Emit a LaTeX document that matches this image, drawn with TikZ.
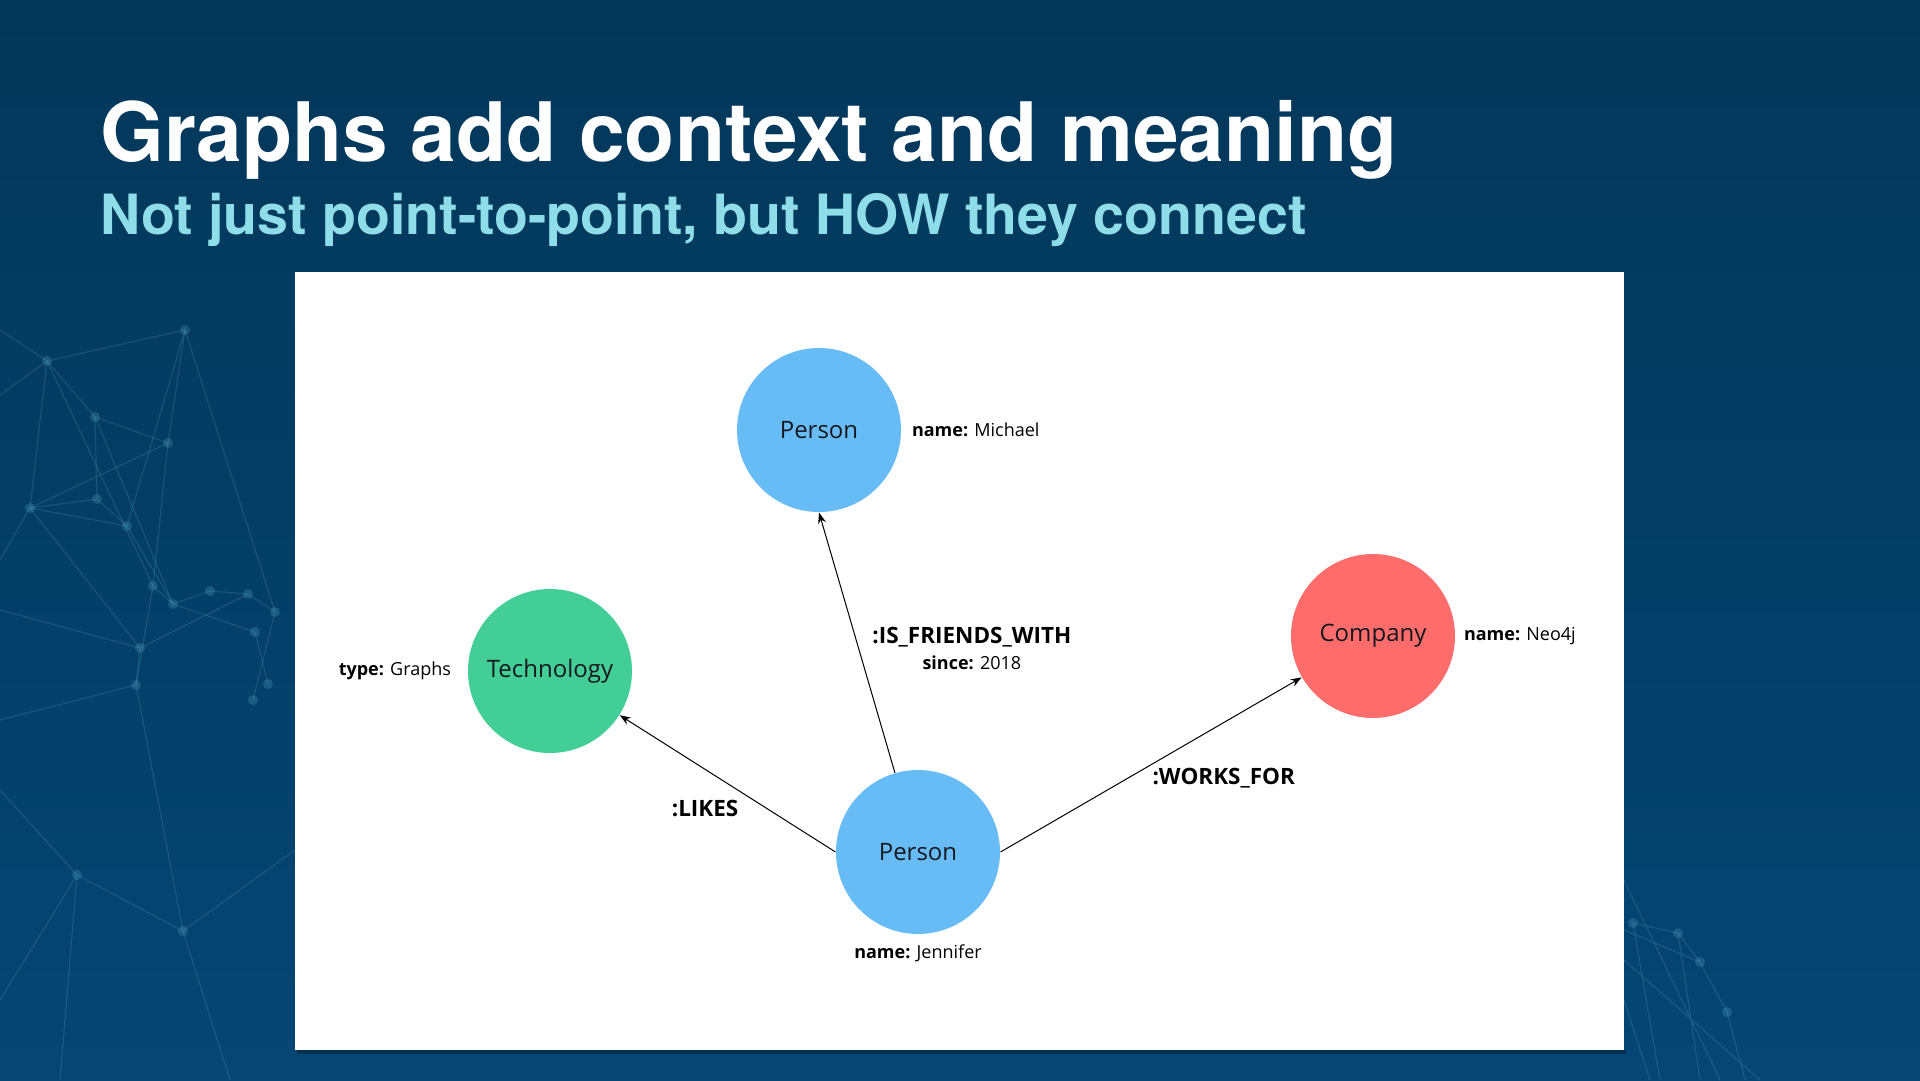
\documentclass[tikz,border=0pt]{standalone}
\usepackage{fontspec}
\setmainfont{Open Sans}
\newfontfamily\headfont{TeX Gyre Heros}
\usetikzlibrary{arrows.meta}
\usetikzlibrary{positioning}

\definecolor{bgtop}{RGB}{3,55,89}
\definecolor{bgbottom}{RGB}{5,70,117}
\definecolor{subcyan}{RGB}{143,221,232}
\definecolor{netline}{RGB}{95,175,205}
\definecolor{personblue}{RGB}{104,188,246}
\definecolor{techgreen}{RGB}{66,206,150}
\definecolor{companyred}{RGB}{255,108,108}
\definecolor{nodetext}{RGB}{22,24,32}

\begin{document}
\begin{tikzpicture}[x=1pt,y=-1pt,->,>={Stealth[length=11pt,width=8pt]},line width=1pt]
\tikzstyle{gnode}=[circle,minimum size=164pt,inner sep=0pt,text=nodetext,font=\fontsize{24}{28}\selectfont]
\tikzstyle{person}=[gnode,fill=personblue]
\tikzstyle{tech}=[gnode,fill=techgreen]
\tikzstyle{company}=[gnode,fill=companyred]
\tikzstyle{prop}=[inner sep=0pt,text=black,font=\fontsize{18}{21}\selectfont]
\tikzstyle{rel}=[inner sep=1pt,text=black,font=\fontsize{22.5}{26}\selectfont\bfseries]
\useasboundingbox (0,0) rectangle (1920,1080);
\shade[top color=bgtop,bottom color=bgbottom] (0,0) rectangle (1920,1080);

% faint network in the background
\begin{scope}[-,draw=netline,draw opacity=0.2,line width=1.2pt]
\foreach \n/\p in {a/{47,361},b/{185,330},c/{95,417},d/{168,443},e/{30,508},f/{97,499},g/{127,526},h/{153,586},i/{173,604},j/{210,591},k/{248,594},l/{275,612},m/{255,632},n/{140,648},o/{136,685},p/{268,684},q/{253,700},r/{77,875},s/{183,931},u/{1633,923},v/{1678,933},w/{1700,962},z/{1727,1012}}
  \coordinate (bg\n) at (\p);
\foreach \a/\b in {a/b,a/c,a/e,a/h,b/d,b/l,b/g,c/d,c/f,c/i,d/e,d/h,e/f,e/g,e/n,f/g,g/i,h/i,h/o,i/j,j/k,k/l,i/m,l/q,m/p,n/o,n/k,o/s,r/s,u/v,v/w,w/z}
  \draw (bg\a) -- (bg\b);
\draw (bga) -- (0,330) (bga) -- (0,395) (bge) -- (0,560) (bgn) -- (0,610) (bgo) -- (0,720)
      (bgr) -- (0,1000) (bgr) -- (60,1080) (bgs) -- (230,1080) (bgs) -- (295,850) (bgr) -- (0,790);
\draw (1624,880) -- (1720,1080) (1624,960) -- (1760,1080) (bgv) -- (1700,1080) (bgu) -- (1660,1080)
      (1624,930) -- (bgw) (bgz) -- (1745,1080) (1624,1000) -- (1650,1080);
\foreach \n in {a,b,c,d,e,f,g,h,i,j,k,l,m,n,o,p,q,r,s,u,v,w,z}
  \fill[netline,opacity=0.25] (bg\n) circle (5pt);
\end{scope}

% panel
\fill[black,opacity=0.3] (297,1050) rectangle (1626,1054);
\fill[white] (295,272) rectangle (1624,1050);

\node[anchor=base west,inner sep=0pt,text=white,font=\headfont\bfseries\fontsize{82}{90}\selectfont] (title) at (100,161) {Graphs add context and meaning};
\node[anchor=base west,inner sep=0pt,text=subcyan,font=\headfont\bfseries\fontsize{55.5}{60}\selectfont] (subtitle) at (100,234) {Not just point-to-point, but HOW they connect};

\node[person, label={[prop,label distance=10pt]right:{\textbf{name:} Michael}}]   (M) at (819,430)  {Person};
\node[tech, label={[prop,label distance=16pt]left:{\textbf{type:} Graphs}}]       (T) at (550,671)  {Technology};
\node[company, label={[prop,label distance=8pt]right:{\textbf{name:} Neo4j}}]     (C) at (1373,636) {Company};
\node[person, label={[prop,label distance=10pt]below:{\textbf{name:} Jennifer}}]  (J) at (918,852)  {Person};

\path (J)      edge node[rel,right,align=center,xshift=14pt,yshift=-6pt] {:IS\_FRIENDS\_WITH\\{\mdseries\fontsize{18}{26}\selectfont\textbf{since:} 2018}} (M.south)
      (J.west) edge node[rel,below left,pos=0.42,xshift=-5pt,yshift=-4pt] {:LIKES} (T)
      (J.east) edge node[rel,below right,yshift=-2pt] {:WORKS\_FOR} (C);
\end{tikzpicture}
\end{document}
